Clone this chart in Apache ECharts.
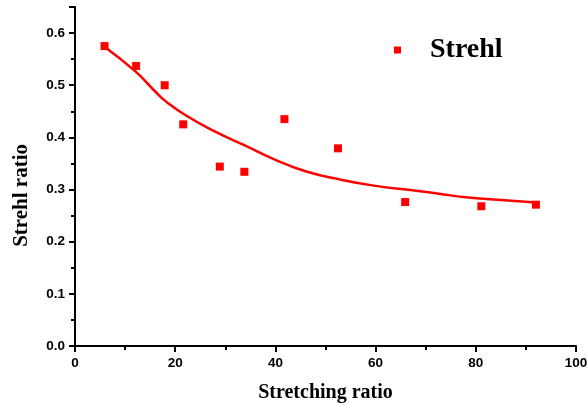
<!DOCTYPE html>
<html>
<head>
<meta charset="utf-8">
<script src="https://cdn.jsdelivr.net/npm/echarts@6/dist/echarts.min.js"></script>
<style>
html,body{margin:0;padding:0;background:#fff;}
#chart{width:587px;height:403px;}
</style>
</head>
<body>
<div id="chart"></div>
<script>
// Measured data points
const stretchX = [5.9, 12.2, 17.9, 21.6, 28.9, 33.8, 41.8, 52.5, 65.9, 81.1, 92.0];
const strehlY  = [0.575, 0.537, 0.500, 0.425, 0.344, 0.334, 0.435, 0.379, 0.276, 0.268, 0.271];
// Fitted curve
const fitX = [6, 12, 16, 18, 22, 28, 34, 40, 46, 53, 60, 67, 72, 78, 85, 92];
const fitY = [0.573, 0.527, 0.488, 0.470, 0.443, 0.411, 0.384, 0.357, 0.335, 0.319, 0.307, 0.299, 0.293, 0.285, 0.280, 0.275];
const xTicks = [0, 20, 40, 60, 80, 100];
const yTicks = [0.0, 0.1, 0.2, 0.3, 0.4, 0.5, 0.6];

const pts = stretchX.map((x, i) => [x, strehlY[i]]);
const fit = fitX.map((x, i) => [x, fitY[i]]);

const chart = echarts.init(document.getElementById('chart'), null, {renderer: 'canvas'});
const labelStyle = {color: '#000', fontFamily: 'Liberation Sans, Arial, sans-serif', fontWeight: 'bold', fontSize: 13.5};
chart.setOption({
  animation: false,
  backgroundColor: '#fff',
  grid: {left: 75, right: 11, top: 7, bottom: 57, containLabel: false, outerBoundsMode: 'none'},
  legend: {
    data: [{name: 'Strehl', icon: 'rect'}],
    left: 389, top: 31,
    itemWidth: 7, itemHeight: 7,
    itemStyle: {opacity: 1},
    textStyle: {fontFamily: 'Liberation Serif, Times New Roman, serif', fontWeight: 'bold', fontSize: 28, color: '#000', padding: [0, 0, 0, 24]}
  },
  xAxis: {
    type: 'value', min: 0, max: 100, interval: 20,
    splitLine: {show: false},
    axisLine: {lineStyle: {color: '#000', width: 2}},
    axisTick: {inside: false, length: 6, lineStyle: {color: '#000', width: 2}},
    minorTick: {show: true, splitNumber: 2, length: 4, lineStyle: {color: '#000', width: 2}},
    axisLabel: Object.assign({margin: 10, formatter: v => xTicks.includes(v) ? String(v) : ''}, labelStyle),
    name: 'Stretching ratio', nameLocation: 'middle', nameGap: 37,
    nameTextStyle: {fontFamily: 'Liberation Serif, Times New Roman, serif', fontWeight: 'bold', fontSize: 20, color: '#000'}
  },
  yAxis: {
    type: 'value', min: 0, max: 0.65, interval: 0.1,
    splitLine: {show: false},
    axisLine: {show: true, lineStyle: {color: '#000', width: 2}},
    axisTick: {show: true, inside: false, length: 6, lineStyle: {color: '#000', width: 2}},
    minorTick: {show: true, splitNumber: 2, length: 4, lineStyle: {color: '#000', width: 2}},
    axisLabel: Object.assign({margin: 10, showMaxLabel: false,
      formatter: v => {const m = yTicks.find(t => Math.abs(t - v) < 1e-6); return m === undefined ? '' : m.toFixed(1);}}, labelStyle)
  },
  graphic: [{
    type: 'text', left: 11, top: 144, rotation: Math.PI / 2,
    style: {text: 'Strehl ratio', fill: '#000', font: 'bold 21px "Liberation Serif", "Times New Roman", serif'}
  }],
  series: [
    {
      name: 'Strehl', type: 'scatter', data: pts, symbol: 'rect', symbolSize: 8,
      itemStyle: {color: '#ff0000', opacity: 1}, z: 3
    },
    {
      name: 'fit', type: 'line', data: fit, smooth: true, showSymbol: false, symbol: 'none',
      lineStyle: {color: '#ff0000', width: 2.5}, z: 2
    }
  ]
});
</script>
</body>
</html>
